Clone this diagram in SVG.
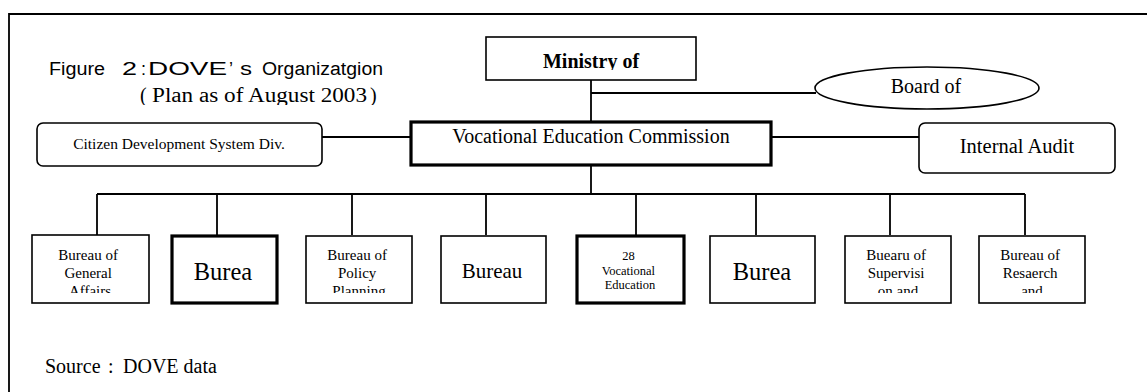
<svg xmlns="http://www.w3.org/2000/svg" width="1147" height="392" viewBox="0 0 1147 392">
  <style>
    .serif { font-family: "Liberation Serif", "Noto Sans CJK JP", serif; fill: #000; }
    .sans { font-family: "Liberation Sans", "Noto Sans CJK JP", sans-serif; fill: #000; }
    .box { fill: #fff; stroke: #000; stroke-width: 1.6; }
    .thick { fill: #fff; stroke: #000; stroke-width: 3.2; }
    .wire { fill: none; stroke: #000; stroke-width: 1.8; }
    .mid { text-anchor: middle; }
  </style>
  <defs>
    <clipPath id="clipPlan"><rect x="100" y="80" width="320" height="25"/></clipPath>
    <clipPath id="clipMinistry"><rect x="488" y="39" width="206" height="31"/></clipPath>
    <clipPath id="clipRow"><rect x="0" y="237" width="1147" height="56"/></clipPath>
  </defs>

  <rect width="1147" height="392" fill="#fff"/>

  <!-- frame -->
  <path class="wire" d="M9,392 V14 H1147" stroke-width="1.6"/>

  <!-- heading -->
  <text class="sans" y="75" font-size="18">
    <tspan x="49" textLength="56" lengthAdjust="spacingAndGlyphs">Figure</tspan>
    <tspan x="122" textLength="15" lengthAdjust="spacingAndGlyphs">2</tspan>
    <tspan x="141">:</tspan>
    <tspan x="148" textLength="79" lengthAdjust="spacingAndGlyphs">DOVE</tspan>
    <tspan x="229">’</tspan>
    <tspan x="240" textLength="12" lengthAdjust="spacingAndGlyphs">s</tspan>
    <tspan x="262" textLength="121" lengthAdjust="spacingAndGlyphs">Organizatgion</tspan>
  </text>
  <g clip-path="url(#clipPlan)">
    <text class="serif" y="102" font-size="20">
      <tspan x="140">(</tspan>
      <tspan x="152" textLength="215" lengthAdjust="spacingAndGlyphs">Plan as of August 2003</tspan>
      <tspan x="370">)</tspan>
    </text>
  </g>

  <!-- connectors -->
  <g id="connectors" class="wire">
    <path d="M591,80 V122"/>
    <path d="M591,93 H816"/>
    <path d="M322,137 H411"/>
    <path d="M771,137 H919"/>
    <path d="M591,165 V194"/>
    <path d="M97,194 H1025"/>
    <path d="M97,194 V235 M217,194 V235 M352,194 V235 M486,194 V235 M636,194 V235 M756,194 V235 M890,194 V235 M1025,194 V235"/>
  </g>

  <g id="ministry">
    <rect class="box" x="486" y="37" width="210" height="43"/>
    <text class="serif mid" x="591" y="68" font-size="20" font-weight="bold" clip-path="url(#clipMinistry)">Ministry of</text>
  </g>

  <g id="board">
    <ellipse class="box" cx="927" cy="88" rx="112" ry="21"/>
    <text class="serif mid" x="926" y="93" font-size="20">Board of</text>
  </g>

  <g id="citizen">
    <rect class="box" x="37" y="123" width="285" height="43" rx="6"/>
    <text class="serif mid" x="179" y="149" font-size="15.5">Citizen Development System Div.</text>
  </g>

  <g id="commission">
    <rect class="thick" x="411" y="122" width="360" height="43"/>
    <text class="serif mid" x="591" y="143" font-size="20">Vocational Education Commission</text>
  </g>

  <g id="audit">
    <rect class="box" x="919" y="123" width="196" height="50" rx="6"/>
    <text class="serif mid" x="1017" y="153" font-size="20.5">Internal Audit</text>
  </g>

  <!-- bureaus -->
  <g id="b1">
    <rect class="box" x="32" y="235" width="117" height="68"/>
    <text class="serif mid" font-size="15" clip-path="url(#clipRow)">
      <tspan x="90" y="260">Bureau of</tspan>
      <tspan x="90" y="278">General</tspan>
      <tspan x="90" y="296">Affairs</tspan>
    </text>
  </g>
  <g id="b2">
    <rect class="thick" x="172" y="236" width="105" height="67"/>
    <text class="serif mid" x="223" y="280" font-size="24.5">Burea</text>
  </g>
  <g id="b3">
    <rect class="box" x="306" y="236" width="106" height="67"/>
    <text class="serif mid" font-size="15" clip-path="url(#clipRow)">
      <tspan x="359" y="260">Bureau of</tspan>
      <tspan x="359" y="278">Policy</tspan>
      <tspan x="359" y="296">Planning</tspan>
    </text>
  </g>
  <g id="b4">
    <rect class="box" x="441" y="236" width="105" height="67"/>
    <text class="serif mid" x="492" y="278" font-size="21">Bureau</text>
  </g>
  <g id="b5">
    <rect class="thick" x="577" y="236" width="107" height="67"/>
    <text class="serif mid" font-size="12.5">
      <tspan x="630" y="260">28</tspan>
      <tspan x="630" y="274.5">Vocational</tspan>
      <tspan x="630" y="289">Education</tspan>
    </text>
  </g>
  <g id="b6">
    <rect class="box" x="710" y="236" width="105" height="67"/>
    <text class="serif mid" x="762" y="280" font-size="24.5">Burea</text>
  </g>
  <g id="b7">
    <rect class="box" x="845" y="236" width="106" height="67"/>
    <text class="serif mid" font-size="15" clip-path="url(#clipRow)">
      <tspan x="898" y="260">Buearu of</tspan>
      <tspan x="898" y="278">Supervisi</tspan>
      <tspan x="898" y="296">on and</tspan>
    </text>
  </g>
  <g id="b8">
    <rect class="box" x="979" y="236" width="106" height="67"/>
    <text class="serif mid" font-size="15" clip-path="url(#clipRow)">
      <tspan x="1032" y="260">Bureau of</tspan>
      <tspan x="1032" y="278">Resaerch</tspan>
      <tspan x="1032" y="296">and</tspan>
    </text>
  </g>

  <text class="serif" y="373" font-size="20">
    <tspan x="45">Source</tspan>
    <tspan x="108">:</tspan>
    <tspan x="123">DOVE data</tspan>
  </text>
</svg>
